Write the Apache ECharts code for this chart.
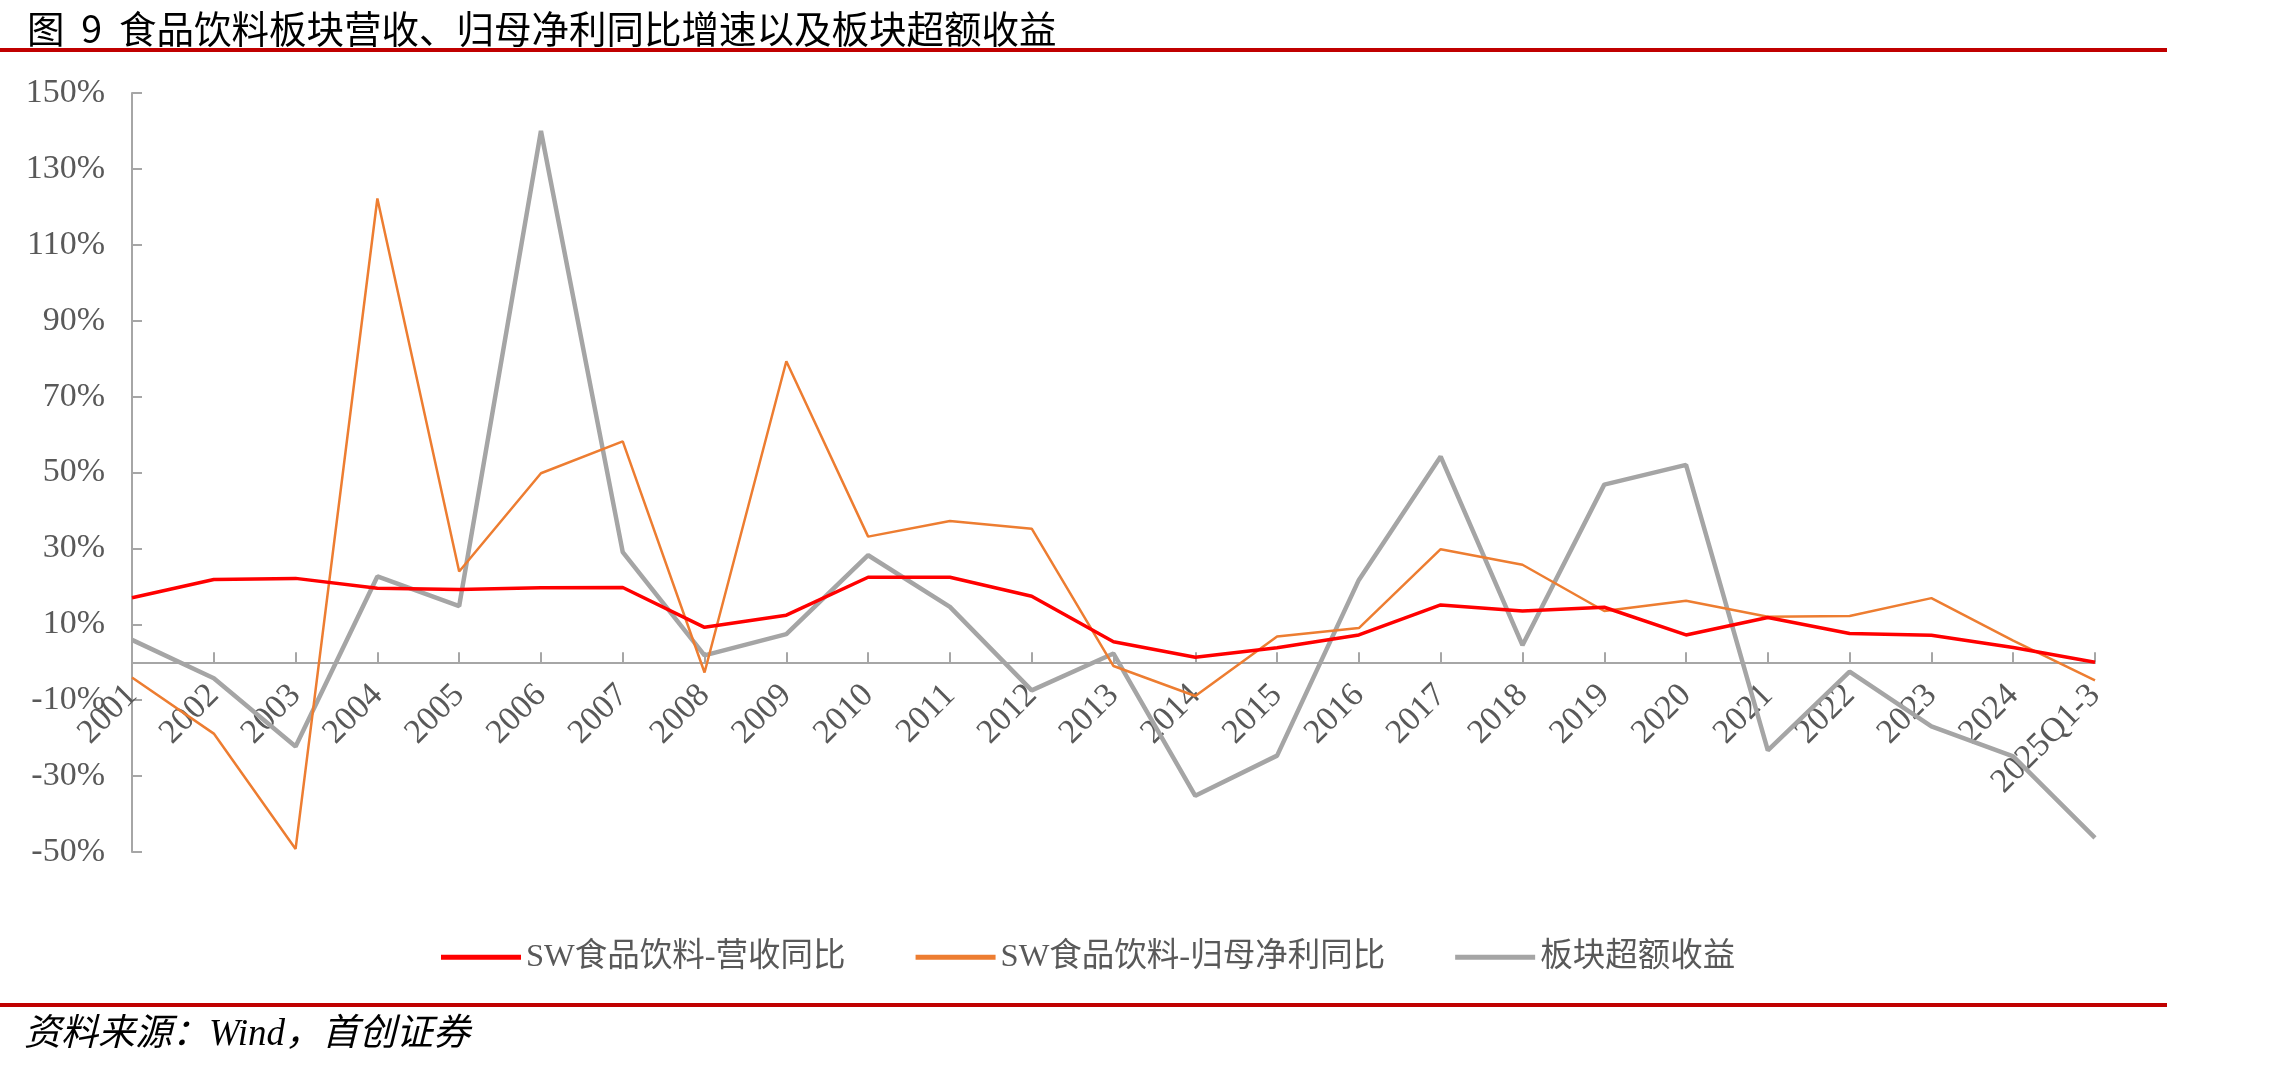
<!DOCTYPE html>
<html>
<head>
<meta charset="utf-8">
<script src="https://cdn.jsdelivr.net/npm/echarts@6/dist/echarts.min.js"></script>
<style>
  html, body { margin: 0; padding: 0; background: #fff; }
  #chart { width: 2280px; height: 1067px; }
</style>
</head>
<body>
<div id="chart"></div>
<script>
// categories on the x axis
const categories = ['2001', '2002', '2003', '2004', '2005', '2006', '2007', '2008', '2009', '2010',
  '2011', '2012', '2013', '2014', '2015', '2016', '2017', '2018', '2019', '2020',
  '2021', '2022', '2023', '2024', '2025Q1-3']

// SW食品饮料-营收同比 (%)
const revenueYoY = [17.0, 21.8, 22.1, 19.5, 19.2, 19.6, 19.7, 9.2, 12.4, 22.4,
  22.4, 17.4, 5.4, 1.3, 3.8, 7.2, 15.1, 13.5, 14.5, 7.2,
  11.8, 7.6, 7.1, 3.9, 0.0]

// SW食品饮料-归母净利同比 (%)
const profitYoY = [-4.0, -18.8, -49.2, 122.2, 23.9, 49.8, 58.2, -2.7, 79.3, 33.1,
  37.2, 35.2, -1.0, -8.9, 6.8, 9.0, 29.8, 25.7, 13.5, 16.2,
  12.0, 12.2, 16.9, 5.7, -4.8]

// 板块超额收益 (%)
const excessReturn = [5.9, -4.2, -22.2, 22.6, 14.8, 140.0, 29.0, 1.8, 7.4, 28.2,
  14.6, -7.4, 2.3, -35.2, -24.6, 21.7, 54.2, 4.5, 46.8, 52.0,
  -23.2, -2.5, -16.9, -24.8, -46.3]

const seriesNames = ['SW食品饮料-营收同比', 'SW食品饮料-归母净利同比', '板块超额收益']

// y axis ticks: -50% .. 150% step 20
const yMin = -50
const yMax = 150
const yStep = 20

const axisGray = '#A6A6A6'
const labelGray = '#595959'
const serifFont = '"Liberation Serif", "Noto Sans CJK SC", serif'

const gridTop = 93
const gridBottom = 215
const chartHeight = 1067
// lift the category axis up to the 0% line
const plotHeight = chartHeight - gridTop - gridBottom
const zeroOffset = -plotHeight * (0 - yMin) / (yMax - yMin)

const chart = echarts.init(document.getElementById('chart'))

const option = {
  backgroundColor: '#fff',
  animation: false,
  title: {
    text: '图  9  食品饮料板块营收、归母净利同比增速以及板块超额收益',
    left: 22,
    top: 5,
    textStyle: {
      fontFamily: '"Noto Sans CJK SC", sans-serif',
      fontWeight: 'normal',
      fontSize: 37.5,
      color: '#000',
    },
  },
  legend: {
    left: 436,
    top: 936,
    icon: 'rect',
    itemWidth: 80,
    itemHeight: 5,
    itemGap: 70,
    textStyle: {
      fontFamily: serifFont,
      fontSize: 32.5,
      color: labelGray,
    },
    data: seriesNames,
  },
  grid: {
    left: 132,
    right: 185,
    top: gridTop,
    bottom: gridBottom,
    outerBoundsMode: 'none',
  },
  xAxis: {
    type: 'category',
    boundaryGap: false,
    data: categories,
    position: 'bottom',
    offset: zeroOffset,
    axisLine: { onZero: false, lineStyle: { color: axisGray, width: 2 } },
    axisTick: { show: true, inside: true, length: 10, lineStyle: { color: axisGray, width: 2 } },
    axisLabel: {
      rotate: 45,
      margin: 28,
      interval: 0,
      fontFamily: serifFont,
      fontSize: 34,
      color: labelGray,
    },
  },
  yAxis: {
    type: 'value',
    min: yMin,
    max: yMax,
    interval: yStep,
    splitLine: { show: false },
    axisLine: { show: true, lineStyle: { color: axisGray, width: 2 } },
    axisTick: { show: true, inside: true, length: 10, lineStyle: { color: axisGray, width: 2 } },
    axisLabel: {
      margin: 27,
      fontFamily: serifFont,
      fontSize: 34,
      color: labelGray,
      formatter: (v) => v + '%',
    },
  },
  series: [
    {
      name: seriesNames[0],
      type: 'line',
      symbol: 'none',
      color: '#FF0000',
      lineStyle: { width: 3.5, color: '#FF0000' },
      z: 4,
      data: revenueYoY,
    },
    {
      name: seriesNames[1],
      type: 'line',
      symbol: 'none',
      color: '#ED7D31',
      lineStyle: { width: 2.5, color: '#ED7D31' },
      z: 3,
      data: profitYoY,
    },
    {
      name: seriesNames[2],
      type: 'line',
      symbol: 'none',
      color: '#A5A5A5',
      lineStyle: { width: 4.5, color: '#A5A5A5' },
      z: 2,
      data: excessReturn,
    },
  ],
  graphic: [
    {
      type: 'rect',
      left: 0,
      top: 48,
      shape: { width: 2167, height: 4 },
      style: { fill: '#C00000' },
    },
    {
      type: 'rect',
      left: 0,
      top: 1003,
      shape: { width: 2167, height: 4 },
      style: { fill: '#C00000' },
    },
    {
      type: 'text',
      left: 24,
      top: 1017,
      style: {
        text: '资料来源：Wind，首创证券',
        font: 'italic 37px "Liberation Serif", "Noto Sans CJK SC", serif',
        fill: '#000',
      },
    },
  ],
}

option && chart.setOption(option)
</script>
</body>
</html>
